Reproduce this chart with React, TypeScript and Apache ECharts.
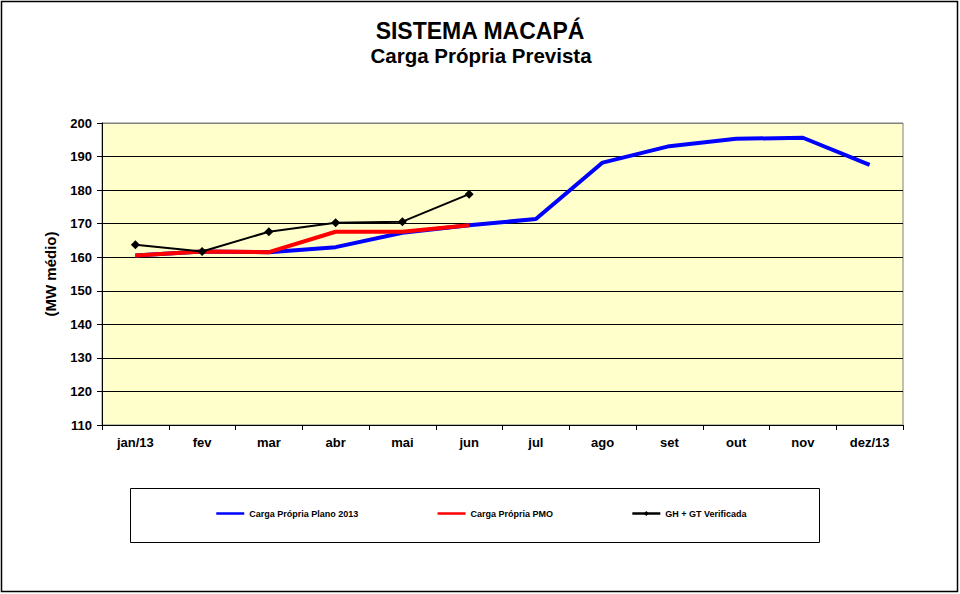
import React, { useEffect, useRef } from "react";
import * as echarts from "echarts";

const months = ["jan/13", "fev", "mar", "abr", "mai", "jun", "jul", "ago", "set", "out", "nov", "dez/13"];
const planoValues = [160.5, 161.7, 161.5, 163.0, 167.3, 169.5, 171.4, 188.2, 193.1, 195.3, 195.6, 187.5];
const pmoValues = [160.5, 161.7, 161.5, 167.6, 167.6, 169.5, null, null, null, null, null, null];
const verificadaValues = [163.7, 161.7, 167.6, 170.3, 170.6, 178.8, null, null, null, null, null, null];

const titleText = "SISTEMA MACAPÁ";
const subtitleText = "Carga Própria Prevista";
const yAxisName = "(MW médio)";
const seriesNames = ["Carga Própria Plano 2013", "Carga Própria PMO", "GH + GT Verificada"];

const FONT = "Arial, 'Liberation Sans', sans-serif";

export default function App() {
  const ref = useRef<HTMLDivElement>(null);

  useEffect(() => {
    if (!ref.current) return;
    const chart = echarts.init(ref.current, undefined, { renderer: "svg" });
    const splitColors = ["#000", "#000", "#000", "#000", "#000", "#000", "#000", "#000", "#000", "#808080"];
    chart.setOption({
      animation: false,
      backgroundColor: "#ffffff",
      textStyle: { fontFamily: FONT },
      grid: {
        left: 102,
        right: 57,
        top: 123,
        bottom: 169,
        show: true,
        backgroundColor: "#FFFFCC",
        borderColor: "#808080",
        borderWidth: 1,
      },
      graphic: [
        {
          type: "rect",
          shape: { x: 1.5, y: 1.5, width: 956, height: 590 },
          style: { fill: "none", stroke: "#000", lineWidth: 1.5 },
          silent: true,
        },
        {
          type: "rect",
          shape: { x: 130.5, y: 488.5, width: 689, height: 54 },
          style: { fill: "none", stroke: "#000", lineWidth: 1 },
          silent: true,
        },
        {
          type: "text",
          x: 480,
          y: 31,
          style: {
            text: titleText,
            fill: "#000",
            font: `bold 23px ${FONT}`,
            textAlign: "center",
            textVerticalAlign: "middle",
          },
        },
        {
          type: "text",
          x: 481,
          y: 55,
          style: {
            text: subtitleText,
            fill: "#000",
            font: `bold 20.5px ${FONT}`,
            textAlign: "center",
            textVerticalAlign: "middle",
          },
        },
      ],
      legend: {
        left: 215,
        top: 509,
        padding: 0,
        itemGap: 78,
        itemWidth: 28,
        itemHeight: 6,
        textStyle: { fontSize: 9, fontWeight: "bold", color: "#000", fontFamily: FONT },
        lineStyle: { width: 2.5 },
        data: [
          { name: seriesNames[0], itemStyle: { opacity: 0 } },
          { name: seriesNames[1], itemStyle: { opacity: 0 } },
          { name: seriesNames[2] },
        ],
      },
      xAxis: {
        type: "category",
        data: months,
        boundaryGap: true,
        axisLine: { show: true, lineStyle: { color: "#000", width: 1 } },
        axisTick: { show: true, interval: 0, alignWithLabel: false, length: 5, lineStyle: { color: "#000" } },
        axisLabel: { interval: 0, color: "#000", fontSize: 13, fontWeight: "bold", margin: 11, fontFamily: FONT },
        splitLine: { show: false },
      },
      yAxis: {
        type: "value",
        min: 110,
        max: 200,
        interval: 10,
        name: yAxisName,
        nameLocation: "middle",
        nameGap: 44,
        nameRotate: 90,
        nameTextStyle: { fontSize: 15, fontWeight: "bold", color: "#000", fontFamily: FONT },
        axisLine: { show: true, lineStyle: { color: "#000", width: 1 } },
        axisTick: { show: true, length: 5, lineStyle: { color: "#000" } },
        axisLabel: { color: "#000", fontSize: 13, fontWeight: "bold", margin: 10, fontFamily: FONT },
        splitLine: { show: true, lineStyle: { color: splitColors, width: 1 } },
      },
      series: [
        {
          name: seriesNames[0],
          type: "line",
          data: planoValues,
          symbol: "none",
          lineStyle: { color: "#0000FF", width: 4 },
          itemStyle: { color: "#0000FF" },
          z: 2,
        },
        {
          name: seriesNames[1],
          type: "line",
          data: pmoValues,
          symbol: "none",
          lineStyle: { color: "#FF0000", width: 4 },
          itemStyle: { color: "#FF0000" },
          z: 3,
        },
        {
          name: seriesNames[2],
          type: "line",
          data: verificadaValues,
          symbol: "diamond",
          symbolSize: 9,
          lineStyle: { color: "#000", width: 2 },
          itemStyle: { color: "#000" },
          z: 4,
        },
      ],
    });
    return () => chart.dispose();
  }, []);

  return (
    <div
      ref={ref}
      style={{ position: "fixed", left: 0, top: 0, width: 960, height: 594 }}
    />
  );
}
